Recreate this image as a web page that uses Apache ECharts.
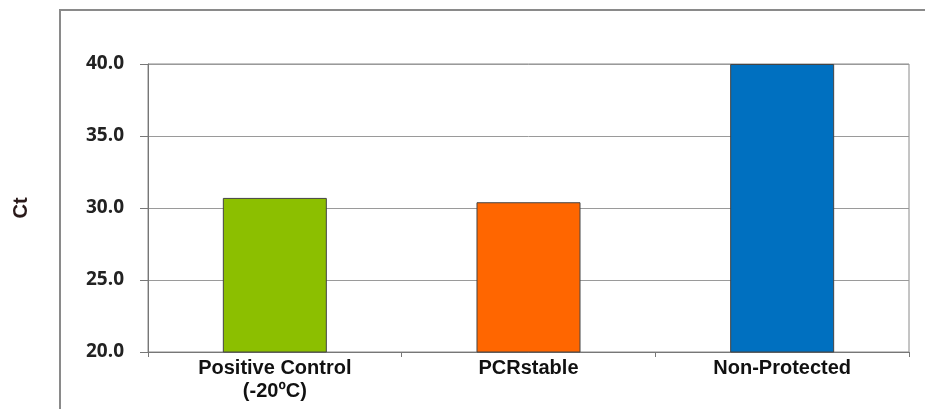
<!DOCTYPE html>
<html>
<head>
<meta charset="utf-8">
<script src="https://cdn.jsdelivr.net/npm/echarts@6/dist/echarts.min.js"></script>
<style>
html,body{margin:0;padding:0;background:#fff;}
#c{width:925px;height:409px;}
</style>
</head>
<body>
<div id="c"></div>
<script>
const categories = ['Positive Control\n(-20ºC)', 'PCRstable', 'Non-Protected'];
const ctValues = [30.7, 30.4, 40.0];
const barColors = ['#8CBF00', '#FF6600', '#0070C0'];
const yTicks = { min: 20, max: 40, interval: 5 };

const chart = echarts.init(document.getElementById('c'), null, { renderer: 'canvas' });
chart.setOption({
  animation: false,
  backgroundColor: '#fff',
  graphic: [{
    type: 'rect',
    shape: { x: 60, y: 10, width: 900, height: 450 },
    style: { fill: 'none', stroke: '#8a8a8a', lineWidth: 2 },
    z: -1
  }],
  grid: {
    left: 148, right: 16, top: 64, bottom: 57,
    show: true, borderColor: '#8a8a8a', borderWidth: 1, backgroundColor: 'transparent'
  },
  xAxis: {
    type: 'category',
    data: categories,
    axisLine: { show: true, lineStyle: { color: '#777', width: 1 } },
    axisTick: { show: true, alignWithLabel: false, length: 5, lineStyle: { color: '#777' } },
    axisLabel: {
      color: '#111', fontFamily: 'Liberation Sans, Arial, sans-serif',
      fontWeight: 'bold', fontSize: 20, lineHeight: 23, margin: 5
    }
  },
  yAxis: {
    type: 'value',
    min: yTicks.min, max: yTicks.max, interval: yTicks.interval,
    name: 'Ct',
    nameLocation: 'middle',
    nameGap: 117,
    nameRotate: 90,
    nameTextStyle: { color: '#2a1a1a', fontFamily: 'Liberation Sans, Arial, sans-serif', fontWeight: 'bold', fontSize: 20 },
    axisLine: { show: true, lineStyle: { color: '#777', width: 1 } },
    axisTick: { show: true, inside: false, length: 8, lineStyle: { color: '#777' } },
    axisLabel: {
      color: '#222', fontFamily: 'Open Sans, Liberation Sans, sans-serif',
      fontWeight: 'bold', fontSize: 19, margin: 24,
      formatter: v => v.toFixed(1)
    },
    splitLine: { show: true, lineStyle: { color: '#9a9a9a', width: 1 } }
  },
  series: [{
    type: 'bar',
    data: ctValues.map((v, i) => ({ value: v, itemStyle: { color: barColors[i] } })),
    barWidth: '41%',
    itemStyle: { borderColor: '#444', borderWidth: 1 }
  }]
});
</script>
</body>
</html>
